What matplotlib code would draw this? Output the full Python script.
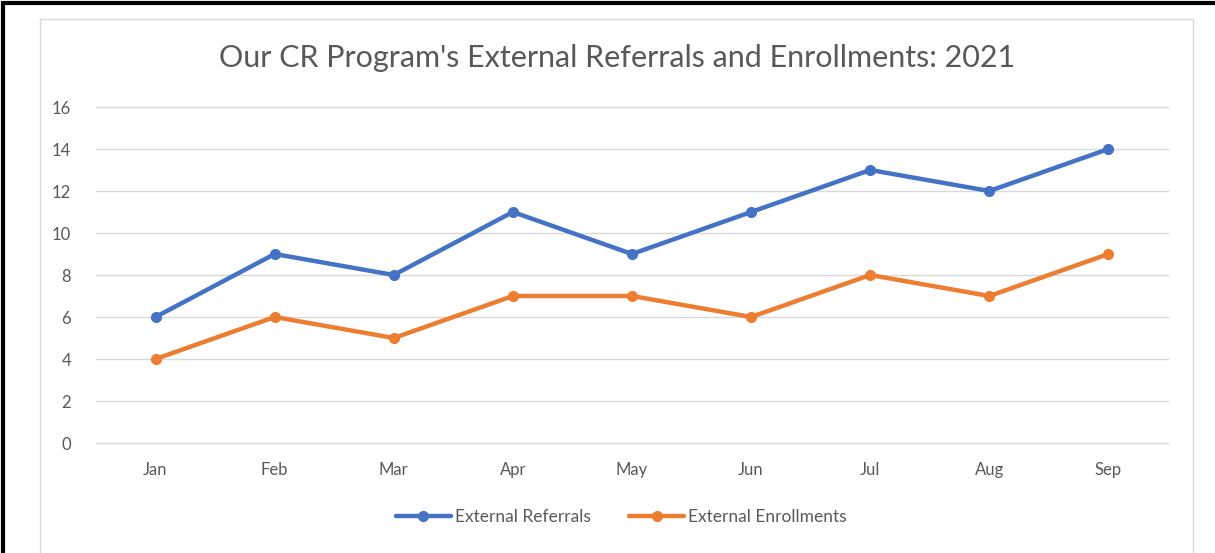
import matplotlib
matplotlib.use("Agg")
import matplotlib.pyplot as plt
from matplotlib.patches import Rectangle

months = ["Jan", "Feb", "Mar", "Apr", "May", "Jun", "Jul", "Aug", "Sep"]
referrals = [6, 9, 8, 11, 9, 11, 13, 12, 14]
enrollments = [4, 6, 5, 7, 7, 6, 8, 7, 9]
y_ticks = [0, 2, 4, 6, 8, 10, 12, 14, 16]

plt.rcParams['font.family'] = ['Lato', 'DejaVu Sans']

W, H = 1215, 553
fig = plt.figure(figsize=(W / 100, H / 100), dpi=100)

# outer black frame (top and left edges visible) and inner gray chart box
fig.add_artist(Rectangle((3 / W, -0.05), 1.2, 1 - 3 / H + 0.05, transform=fig.transFigure,
                         fill=False, edgecolor="black", linewidth=3))
fig.add_artist(Rectangle((40 / W, -0.05), (1193 - 40) / W, 1 - 19 / H + 0.05,
                         transform=fig.transFigure, fill=False, edgecolor="#d9d9d9", linewidth=1))

ax = fig.add_axes([96 / W, 1 - 443 / H, (1168 - 96) / W, (443 - 107) / H])
x = range(len(months))
ax.plot(x, referrals, color="#4472C4", linewidth=3.2, marker="o", markersize=7,
        label="External Referrals", solid_capstyle="round")
ax.plot(x, enrollments, color="#ED7D31", linewidth=3.2, marker="o", markersize=7,
        label="External Enrollments", solid_capstyle="round")

ax.set_xlim(-0.5, len(months) - 0.5)
ax.set_ylim(0, 16)
ax.set_yticks(y_ticks)
ax.set_xticks(list(x))
ax.set_xticklabels(months)
ax.grid(axis="y", color="#d9d9d9", linewidth=1)
for gl in ax.get_ygridlines():
    gl.set_clip_on(False)
ax.set_axisbelow(True)
for s in ax.spines.values():
    s.set_visible(False)
ax.tick_params(length=0, labelsize=12, colors="#595959")
ax.tick_params(axis="x", pad=14)
ax.tick_params(axis="y", pad=18)

fig.text(617 / W, 1 - 58 / H, "Our CR Program's External Referrals and Enrollments: 2021",
         ha="center", va="center", fontsize=22, color="#595959")

fig.legend(loc="center", bbox_to_anchor=(621 / W, 1 - 517 / H), ncol=2, frameon=False,
           fontsize=12.5, labelcolor="#595959", handlelength=3.2, handletextpad=0.2,
           columnspacing=2.2)

fig.savefig("out.png", dpi=100)
